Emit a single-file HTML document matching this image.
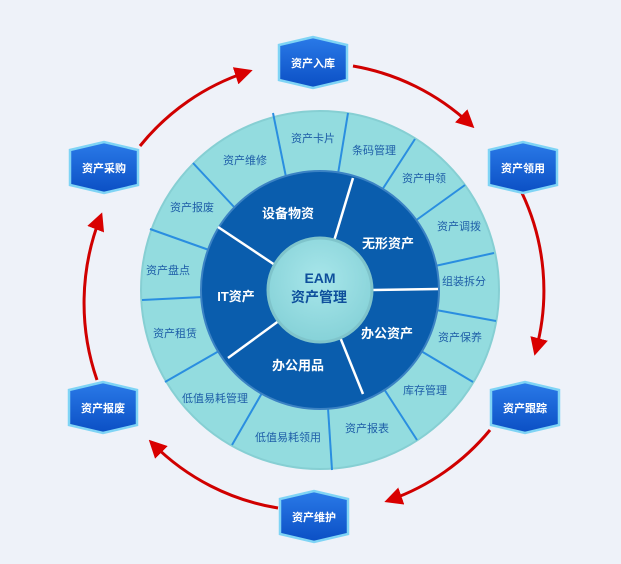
<!DOCTYPE html>
<html><head><meta charset="utf-8"><style>
html,body{margin:0;padding:0;background:#eef2f9;}
svg{display:block;font-family:"Liberation Sans","Noto Sans CJK SC",sans-serif;}
</style></head><body>
<svg width="621" height="564" viewBox="0 0 621 564" xmlns="http://www.w3.org/2000/svg">
<defs>
<linearGradient id="hex" x1="0" y1="0" x2="0" y2="1">
<stop offset="0" stop-color="#2a7ae8"/><stop offset="1" stop-color="#0b4fc4"/></linearGradient>
<radialGradient id="cc" cx="0.5" cy="0.4" r="0.6">
<stop offset="0" stop-color="#a8e6ea"/><stop offset="1" stop-color="#86d2d8"/></radialGradient>
<marker id="ar" markerWidth="6" markerHeight="6" refX="4" refY="3" orient="auto" markerUnits="strokeWidth">
<path d="M0,0 L6,3 L0,6 z" fill="#d90000"/></marker>
</defs>
<rect width="621" height="564" fill="#eef2f9"/>
<g fill="none" stroke="#d00000" stroke-width="3" marker-end="url(#ar)">
<path d="M353,66 A228,228 0 0 1 470,124"/>
<path d="M522,193 A228,228 0 0 1 536,350"/>
<path d="M490,430 A228,228 0 0 1 390,500"/>
<path d="M278,508 A228,228 0 0 1 153,444"/>
<path d="M97,380 A235,235 0 0 1 100,218"/>
<path d="M140,146 A228,228 0 0 1 247,72"/>
</g>
<circle cx="320" cy="290" r="179" fill="#93dcdf" stroke="#86cfd3" stroke-width="2"/>
<g stroke="#2a8ee0" stroke-width="2">
<line x1="338" y1="174" x2="348" y2="113"/>
<line x1="382" y1="190" x2="415" y2="139"/>
<line x1="415" y1="221" x2="465" y2="185"/>
<line x1="435" y1="266" x2="494" y2="253"/>
<line x1="436" y1="310" x2="496" y2="321"/>
<line x1="421" y1="351" x2="473" y2="382"/>
<line x1="384" y1="389" x2="417" y2="440"/>
<line x1="328" y1="408" x2="332" y2="470"/>
<line x1="262" y1="393" x2="232" y2="445"/>
<line x1="219" y1="351" x2="165" y2="382"/>
<line x1="203" y1="297" x2="142" y2="300"/>
<line x1="209" y1="250" x2="150" y2="229"/>
<line x1="235" y1="208" x2="193" y2="163"/>
<line x1="286" y1="177" x2="273" y2="113"/>
</g>
<circle cx="320" cy="290" r="119" fill="#0a5dad" stroke="#3b82c4" stroke-width="2"/>
<g stroke="#ffffff" stroke-width="2.5">
<line x1="334" y1="241" x2="353" y2="178"/>
<line x1="371" y1="290" x2="438" y2="289"/>
<line x1="340" y1="337" x2="363" y2="394"/>
<line x1="280" y1="320" x2="228" y2="358"/>
<line x1="275" y1="265" x2="218" y2="227"/>
</g>
<circle cx="320" cy="290" r="52" fill="url(#cc)" stroke="#7fc4cb" stroke-width="3"/>
<g fill="#ffffff" font-size="13" font-weight="bold" text-anchor="middle">
<text x="288" y="218">设备物资</text>
<text x="388" y="248">无形资产</text>
<text x="387" y="338">办公资产</text>
<text x="298" y="370">办公用品</text>
<text x="236" y="301">IT资产</text>
</g>
<g fill="#0e4f9c" font-size="14" font-weight="bold" text-anchor="middle">
<text x="320" y="283">EAM</text>
<text x="319" y="302">资产管理</text>
</g>
<g fill="#1e5ea8" font-size="11" text-anchor="middle">
<text x="313" y="142">资产卡片</text>
<text x="374" y="154">条码管理</text>
<text x="424" y="182">资产申领</text>
<text x="459" y="230">资产调拨</text>
<text x="464" y="285">组装拆分</text>
<text x="460" y="341">资产保养</text>
<text x="425" y="394">库存管理</text>
<text x="367" y="432">资产报表</text>
<text x="288" y="441">低值易耗领用</text>
<text x="215" y="402">低值易耗管理</text>
<text x="175" y="337">资产租赁</text>
<text x="168" y="274">资产盘点</text>
<text x="192" y="211">资产报废</text>
<text x="245" y="164">资产维修</text>
</g>
<g stroke="#7fd4f5" stroke-width="2.5" fill="url(#hex)">
<polygon points="279,45 313,37 347,45 347,80 313,88 279,80"/>
<polygon points="489,150 523,142 557,150 557,185 523,193 489,185"/>
<polygon points="491,390 525,382 559,390 559,425 525,433 491,425"/>
<polygon points="280,499 314,491 348,499 348,534 314,542 280,534"/>
<polygon points="69,390 103,382 137,390 137,425 103,433 69,425"/>
<polygon points="70,150 104,142 138,150 138,185 104,193 70,185"/>
</g>
<g fill="#ffffff" font-size="11" font-weight="bold" text-anchor="middle">
<text x="313" y="67">资产入库</text>
<text x="523" y="172">资产领用</text>
<text x="525" y="412">资产跟踪</text>
<text x="314" y="521">资产维护</text>
<text x="103" y="412">资产报废</text>
<text x="104" y="172">资产采购</text>
</g>
</svg>
</body></html>
